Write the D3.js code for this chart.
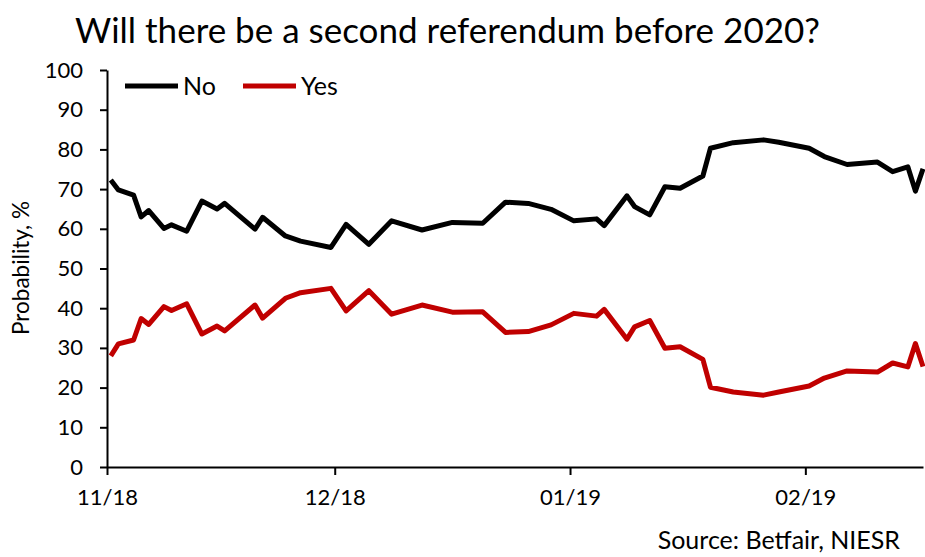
<!DOCTYPE html>
<html><head><meta charset="utf-8">
<script src="https://cdn.jsdelivr.net/npm/d3@7"></script>
<style>
body{margin:0;background:#fff;}
svg{display:block;font-family:Lato,"Open Sans",sans-serif;}
</style></head>
<body><svg id="c" width="925" height="557"></svg>
<script>
const dates = ["2018-11-01","2018-11-02","2018-11-04","2018-11-05","2018-11-06","2018-11-08","2018-11-09","2018-11-11","2018-11-13","2018-11-15","2018-11-16","2018-11-20","2018-11-21","2018-11-24","2018-11-26","2018-11-30","2018-12-02","2018-12-05","2018-12-08","2018-12-12","2018-12-16","2018-12-20","2018-12-23","2018-12-26","2018-12-29","2019-01-01","2019-01-04","2019-01-05","2019-01-08","2019-01-09","2019-01-11","2019-01-13","2019-01-15","2019-01-18","2019-01-19","2019-01-22","2019-01-26","2019-01-28","2019-02-01","2019-02-03","2019-02-06","2019-02-10","2019-02-12","2019-02-14","2019-02-15","2019-02-16"];
const noValues = [72.3,69.8,68.5,63.0,64.6,60.1,61.0,59.4,67.0,65.0,66.4,59.9,62.9,58.2,56.9,55.3,61.1,56.1,62.0,59.7,61.6,61.4,66.7,66.4,64.9,62.0,62.5,60.8,68.3,65.6,63.5,70.6,70.2,73.3,80.3,81.7,82.4,81.8,80.3,78.2,76.2,76.8,74.4,75.6,69.5,75.1];
const yesValues = [28.0,31.0,32.0,37.4,35.9,40.4,39.4,41.1,33.5,35.5,34.3,40.8,37.5,42.5,43.9,45.0,39.3,44.4,38.5,40.8,39.0,39.1,33.9,34.1,35.8,38.7,38.0,39.7,32.2,35.3,36.9,29.9,30.3,27.1,20.1,18.9,18.1,18.9,20.4,22.4,24.2,23.9,26.2,25.2,31.1,25.3];
const xTickDates = ["2018-11-01","2018-12-01","2019-01-01","2019-02-01"];
const xTickLabels = ["11/18","12/18","01/19","02/19"];
const yTicks = [0,10,20,30,40,50,60,70,80,90,100];
const seriesNames = ["No","Yes"];
const seriesColors = ["#000000","#C00000"];

const parse = d3.utcParse("%Y-%m-%d");
const svg = d3.select("#c");
const x = d3.scaleUtc()
  .domain([parse("2018-11-01"), d3.utcHour.offset(parse("2019-02-16"), 12)])
  .range([107, 923]);
const y = d3.scaleLinear().domain([0,100]).range([467,70]);

// title
svg.append("text").attr("x",75).attr("y",43).attr("font-size",35).attr("fill","#000")
  .attr("textLength",745).attr("lengthAdjust","spacing")
  .text("Will there be a second referendum before 2020?");

// y axis
const yAxis = svg.append("g").attr("transform","translate(107,0)")
  .call(d3.axisLeft(y).tickValues(yTicks).tickSize(7).tickPadding(17).tickSizeOuter(0));
yAxis.select(".domain").attr("stroke","#000").attr("stroke-width",2);
yAxis.selectAll(".tick line").attr("stroke","#000").attr("stroke-width",2);
yAxis.selectAll("text").attr("font-size",22).attr("fill","#000").attr("font-family","Lato");

// x axis
const xAxis = svg.append("g").attr("transform","translate(0,467)")
  .call(d3.axisBottom(x).tickValues(xTickDates.map(parse)).tickFormat((d,i)=>xTickLabels[i]).tickSize(8).tickPadding(14).tickSizeOuter(0));
xAxis.select(".domain").attr("stroke","#000").attr("stroke-width",2);
xAxis.selectAll(".tick line").attr("stroke","#000").attr("stroke-width",2);
xAxis.selectAll("text").attr("font-size",22).attr("fill","#000").attr("font-family","Lato");

// y label
svg.append("text").attr("transform","translate(29,268) rotate(-90)").attr("text-anchor","middle")
  .attr("font-size",22.5).attr("fill","#000").text("Probability, %");

// lines
const half = d => d3.utcHour.offset(parse(d), 12);
const line = d3.line().x(d=>x(half(d.date))).y(d=>y(d.v)).curve(d3.curveLinear);
[noValues, yesValues].forEach((vals, k) => {
  const data = dates.map((d,i)=>({date:d, v:vals[i]}));
  svg.append("path").datum(data).attr("d",line).attr("fill","none")
    .attr("stroke",seriesColors[k]).attr("stroke-width",5).attr("stroke-linejoin","round");
});

// legend
const legX = [125, 243];
seriesNames.forEach((n,k)=>{
  svg.append("line").attr("x1",legX[k]).attr("x2",legX[k]+53).attr("y1",86).attr("y2",86)
    .attr("stroke",seriesColors[k]).attr("stroke-width",5);
  svg.append("text").attr("x",legX[k]+58).attr("y",95).attr("font-size",25).attr("fill","#000").text(n);
});

// source
svg.append("text").attr("x",900).attr("y",549).attr("text-anchor","end").attr("font-size",25)
  .attr("fill","#000").text("Source: Betfair, NIESR");
</script></body></html>
